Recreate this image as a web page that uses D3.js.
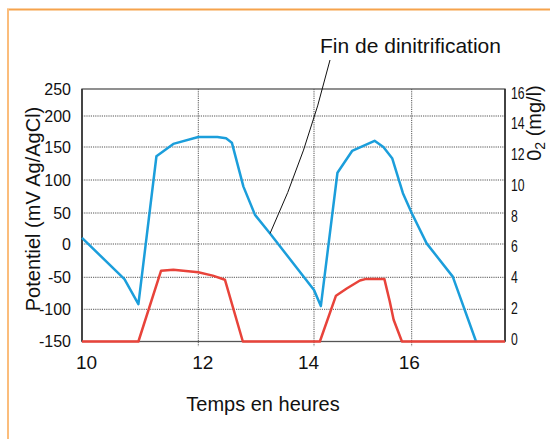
<!DOCTYPE html>
<html>
<head>
<meta charset="utf-8">
<script src="https://cdn.jsdelivr.net/npm/d3@7"></script>
<style>
body{margin:0;background:#fff;}
svg{display:block;font-family:"Liberation Sans",Arial,sans-serif;}
</style>
</head>
<body>
<div id="chart"></div>
<script>
// temps (heures) / potentiel (mV) - courbe bleue
var potTime = [10,10.73,10.97,11.28,11.57,12.0,12.33,12.48,12.58,12.78,12.98,13.24,14.0,14.14,14.48,14.78,15.24,15.42,15.6,15.82,16.0,16.32,16.88,17.38];
var potValue = [10,-53,-92,136,155,166,166,164,157,90,47,17,-70,-95,111,144,160,150,133,80,50,1,-49,-150];

// temps / O2 (mg/l) - courbe rouge
var o2Time = [10,10.97,11.36,11.57,12.0,12.25,12.46,12.77,14.12,14.45,14.67,14.94,15.07,15.44,15.55,15.63,15.8,18];
var o2Value = [0,0,4.4,4.45,4.3,4.1,3.85,0,0,2.85,3.3,3.8,3.9,3.9,2.5,1.35,0,0];

var xTicks = [10,12,14,16];
var yTicks = [-150,-100,-50,0,50,100,150,200,250];
var y2Ticks = [0,2,4,6,8,10,12,14,16];

var W = 550, H = 439;
var box = {left:82, right:505, top:89, bottom:341.5};

var svg = d3.select("#chart").append("svg").attr("width",W).attr("height",H);

// cadre orange
svg.append("line").attr("x1",7).attr("x2",W).attr("y1",9.5).attr("y2",9.5)
	.attr("stroke","#f6a34c").attr("stroke-width",1.8);
svg.append("line").attr("x1",8).attr("x2",8).attr("y1",9).attr("y2",H)
	.attr("stroke","#fbbd7c").attr("stroke-width",2);

// the original axes are not evenly spaced, so piecewise scales
var x = d3.scaleLinear().domain([10,12,14,16,18]).range([box.left,198.3,314,411.7,box.right]);
var y = d3.scaleLinear().domain([-150,-100,-50,0,50,100,150,200,250])
	.range([box.bottom,309.3,277.3,244,213,180,147,116,box.top]);
var y2 = d3.scaleLinear().domain([0,2,4,6,8,10,12,14,16])
	.range([box.bottom,309.3,277.3,244,213,180,147,116,box.top]);
// right labels are evenly spaced and sit a bit low in the original
var y2lab = d3.scaleLinear().domain([0,16]).range([339,93]);

// grille
svg.append("g").selectAll("line").data(yTicks.filter(d=>d>-150&&d<250))
	.join("line")
	.attr("x1",box.left).attr("x2",box.right)
	.attr("y1",d=>y(d)).attr("y2",d=>y(d))
	.attr("stroke","#555").attr("stroke-width",1).attr("stroke-dasharray","1.2,1");
svg.append("g").selectAll("line").data(xTicks.filter(d=>d>10))
	.join("line")
	.attr("x1",d=>x(d)).attr("x2",d=>x(d))
	.attr("y1",box.top).attr("y2",box.bottom+5)
	.attr("stroke","#555").attr("stroke-width",1).attr("stroke-dasharray","1.2,1");

// cadre du graphique
svg.append("rect").attr("x",box.left).attr("y",box.top)
	.attr("width",box.right-box.left).attr("height",box.bottom-box.top)
	.attr("fill","none").attr("stroke","#555").attr("stroke-width",1.3);
svg.append("line").attr("x1",box.left).attr("x2",box.left).attr("y1",box.top).attr("y2",box.bottom)
	.attr("stroke","#333").attr("stroke-width",1.6);
svg.append("line").attr("x1",box.right).attr("x2",box.right).attr("y1",box.top).attr("y2",box.bottom)
	.attr("stroke","#222").attr("stroke-width",1.4);

// axes
var yAxis = d3.axisLeft(y).tickValues(yTicks).tickFormat(d=>String(d)).tickSize(0).tickPadding(11);
var gy = svg.append("g").attr("transform","translate("+box.left+",0)").call(yAxis);
gy.select(".domain").remove();
gy.selectAll("text").attr("font-size",16).attr("fill","#111").attr("font-family","Liberation Sans, Arial, sans-serif");

var y2Axis = d3.axisRight(y2lab).tickValues(y2Ticks).tickFormat(d=>String(d)).tickSize(0).tickPadding(6);
var gy2 = svg.append("g").attr("transform","translate("+box.right+",0)").call(y2Axis);
gy2.select(".domain").remove();
gy2.selectAll("text").attr("font-size",16).attr("fill","#111")
	.attr("font-family","Liberation Sans, Arial, sans-serif")
	.attr("textLength",d=>String(d).length*6.8).attr("lengthAdjust","spacingAndGlyphs");

var xAxis = d3.axisBottom(x).tickValues(xTicks).tickSize(0).tickPadding(14);
var gx = svg.append("g").attr("transform","translate(0,"+box.bottom+")").call(xAxis);
gx.select(".domain").remove();
gx.selectAll("text").attr("font-size",19).attr("fill","#111").attr("font-family","Liberation Sans, Arial, sans-serif")
	.attr("dx",d=>d==10?4:(d==16?-3:(d==14?-6:4)));

// courbes
var potLine = d3.line().x((d,i)=>x(potTime[i])).y(d=>y(d));
svg.append("path").datum(potValue).attr("d",potLine)
	.attr("fill","none").attr("stroke","#1b9edb").attr("stroke-width",2.5).attr("stroke-linejoin","round");

var o2Line = d3.line().x((d,i)=>x(o2Time[i])).y(d=>y2(d));
svg.append("path").datum(o2Value).attr("d",o2Line)
	.attr("fill","none").attr("stroke","#e8433a").attr("stroke-width",2.5).attr("stroke-linejoin","round");

// titres
svg.append("text").attr("transform","translate(40,209) rotate(-90)")
	.attr("text-anchor","middle").attr("font-size",20).attr("fill","#111")
	.text("Potentiel (mV Ag/AgCl)");

var t2 = svg.append("text").attr("transform","translate(541,123) rotate(-90)")
	.attr("text-anchor","middle").attr("font-size",20).attr("fill","#111");
t2.append("tspan").text("0");
t2.append("tspan").attr("font-size",14).attr("dy",4).text("2");
t2.append("tspan").attr("dy",-4).text(" (mg/l)");

svg.append("text").attr("x",263).attr("y",411).attr("text-anchor","middle")
	.attr("font-size",20).attr("fill","#111").text("Temps en heures");

// annotation
var annTime = 13.24, annPot = 17;
svg.append("path")
	.attr("d","M"+(x(annTime))+","+(y(annPot))+" Q"+(x(annTime)+37)+","+(y(annPot)-80)+" 330,60")
	.attr("fill","none").attr("stroke","#111").attr("stroke-width",1);
svg.append("text").attr("x",320).attr("y",53).attr("font-size",21).attr("fill","#111")
	.text("Fin de dinitrification");
</script>
</body>
</html>
